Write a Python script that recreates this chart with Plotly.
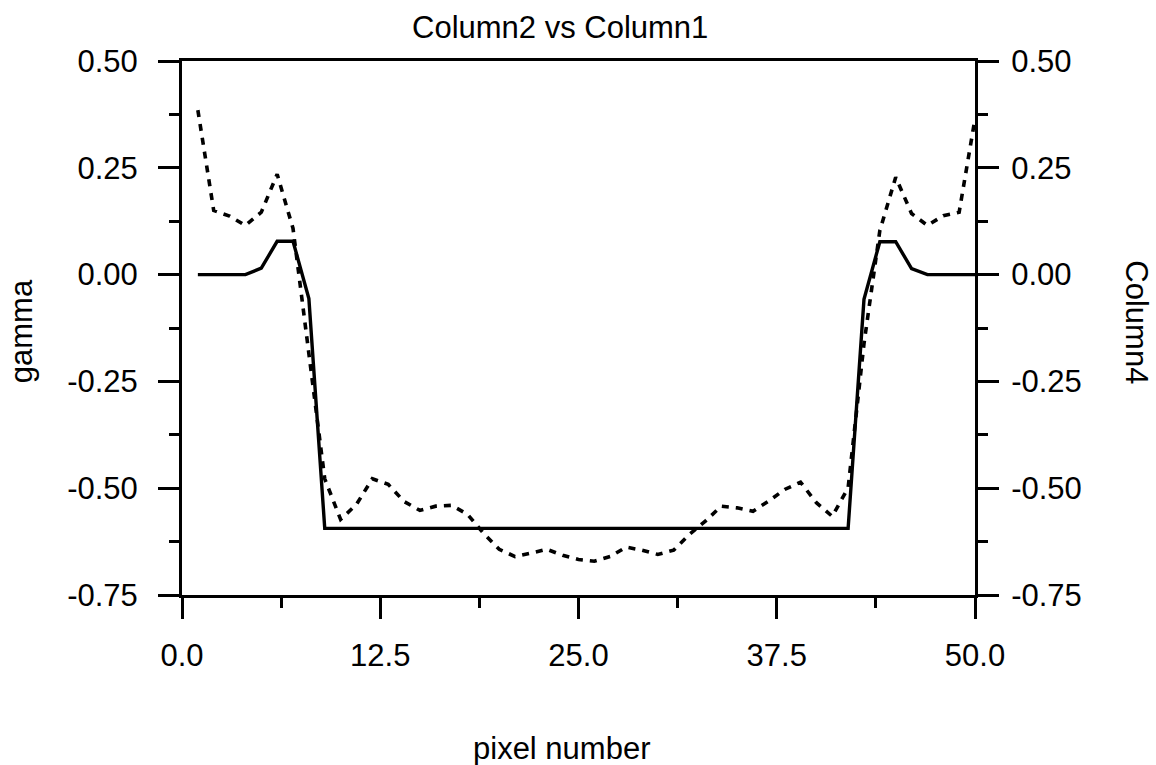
import plotly.graph_objects as go

# ---- data ----
pixel = [1, 2, 3, 4, 5, 6, 7, 8, 9, 10,
         11, 12, 13, 14, 15, 16, 17, 18, 19, 20,
         21, 22, 23, 24, 25, 26, 27, 28, 29, 30,
         31, 32, 33, 34, 35, 36, 37, 38, 39, 40,
         41, 42, 43, 44, 45, 46, 47, 48, 49, 50]

gamma = [0.0, 0.0, 0.0, 0.0, 0.015, 0.078, 0.078, -0.056, -0.594, -0.594,
         -0.594, -0.594, -0.594, -0.594, -0.594, -0.594, -0.594, -0.594, -0.594, -0.594,
         -0.594, -0.594, -0.594, -0.594, -0.594, -0.594, -0.594, -0.594, -0.594, -0.594,
         -0.594, -0.594, -0.594, -0.594, -0.594, -0.594, -0.594, -0.594, -0.594, -0.594,
         -0.594, -0.594, -0.058, 0.077, 0.077, 0.014, 0.0, 0.0, 0.0, 0.0]

column4 = [0.385, 0.150, 0.137, 0.115, 0.146, 0.235, 0.108, -0.180, -0.478, -0.573,
           -0.538, -0.478, -0.491, -0.531, -0.552, -0.542, -0.540, -0.561, -0.605, -0.643,
           -0.660, -0.652, -0.643, -0.657, -0.667, -0.671, -0.660, -0.638, -0.645, -0.655,
           -0.645, -0.608, -0.577, -0.542, -0.546, -0.554, -0.530, -0.503, -0.486, -0.534,
           -0.566, -0.499, -0.162, 0.103, 0.228, 0.143, 0.115, 0.138, 0.146, 0.365]

x_tickvals = [0.0, 12.5, 25.0, 37.5, 50.0]
x_ticktext = ["0.0", "12.5", "25.0", "37.5", "50.0"]
y_tickvals = [0.5, 0.25, 0.0, -0.25, -0.5, -0.75]
y_ticktext = ["0.50", "0.25", "0.00", "-0.25", "-0.50", "-0.75"]

title_text = "Column2 vs Column1"
x_title = "pixel number"
y_title = "gamma"
y2_title = "Column4"

FONT = "Liberation Sans, Arial, Helvetica, sans-serif"
FS = 31

fig = go.Figure()
fig.add_trace(go.Scatter(x=pixel, y=gamma, mode="lines",
                         line=dict(color="black", width=3.4), showlegend=False))
fig.add_trace(go.Scatter(x=pixel, y=column4, mode="lines", yaxis="y2",
                         line=dict(color="black", width=3.6, dash="7px,7px"),
                         showlegend=False))

axis_common = dict(showgrid=False, zeroline=False, showline=True,
                   linecolor="black", linewidth=3,
                   ticks="outside", ticklen=21, tickwidth=3, tickcolor="black",
                   tickfont=dict(family=FONT, size=FS, color="black"))

fig.update_layout(
    width=1156, height=765,
    margin=dict(l=182, r=181, t=61, b=170),
    paper_bgcolor="white", plot_bgcolor="white",
    font=dict(family=FONT, size=FS, color="black"),
    xaxis=dict(range=[0, 50], tickmode="array", tickvals=x_tickvals, ticktext=x_ticktext,
               mirror=True, ticklabelstandoff=10,
               minor=dict(ticks="outside", ticklen=10, tickwidth=3, tickcolor="black",
                          dtick=6.25, tick0=0, showgrid=False),
               **axis_common),
    yaxis=dict(range=[-0.75, 0.5], tickmode="array", tickvals=y_tickvals, ticktext=y_ticktext,
               ticklabelstandoff=14,
               minor=dict(ticks="outside", ticklen=10, tickwidth=3, tickcolor="black",
                          dtick=0.125, tick0=0, showgrid=False),
               **axis_common),
    yaxis2=dict(range=[-0.75, 0.5], overlaying="y", side="right",
                tickmode="array", tickvals=y_tickvals, ticktext=y_ticktext,
                ticklabelstandoff=6,
                minor=dict(ticks="outside", ticklen=10, tickwidth=3, tickcolor="black",
                           dtick=0.125, tick0=0, showgrid=False),
                **axis_common),
    annotations=[
        dict(text=title_text, xref="paper", yref="paper", x=0.4767, y=1.0618,
             xanchor="center", yanchor="middle", showarrow=False,
             font=dict(family=FONT, size=FS, color="black")),
        dict(text=x_title, xref="paper", yref="paper", x=0.479, y=-0.288,
             xanchor="center", yanchor="middle", showarrow=False,
             font=dict(family=FONT, size=FS, color="black")),
        dict(text=y_title, xref="paper", yref="paper", x=-0.203, y=0.494,
             xanchor="center", yanchor="middle", showarrow=False, textangle=-90,
             font=dict(family=FONT, size=FS, color="black")),
        dict(text=y2_title, xref="paper", yref="paper", x=1.204, y=0.511,
             xanchor="center", yanchor="middle", showarrow=False, textangle=90,
             font=dict(family=FONT, size=FS, color="black")),
    ],
)

fig.write_html("out.html",
               config={"displayModeBar": False},
               post_script="document.body.style.margin='0';document.body.style.padding='0';")
